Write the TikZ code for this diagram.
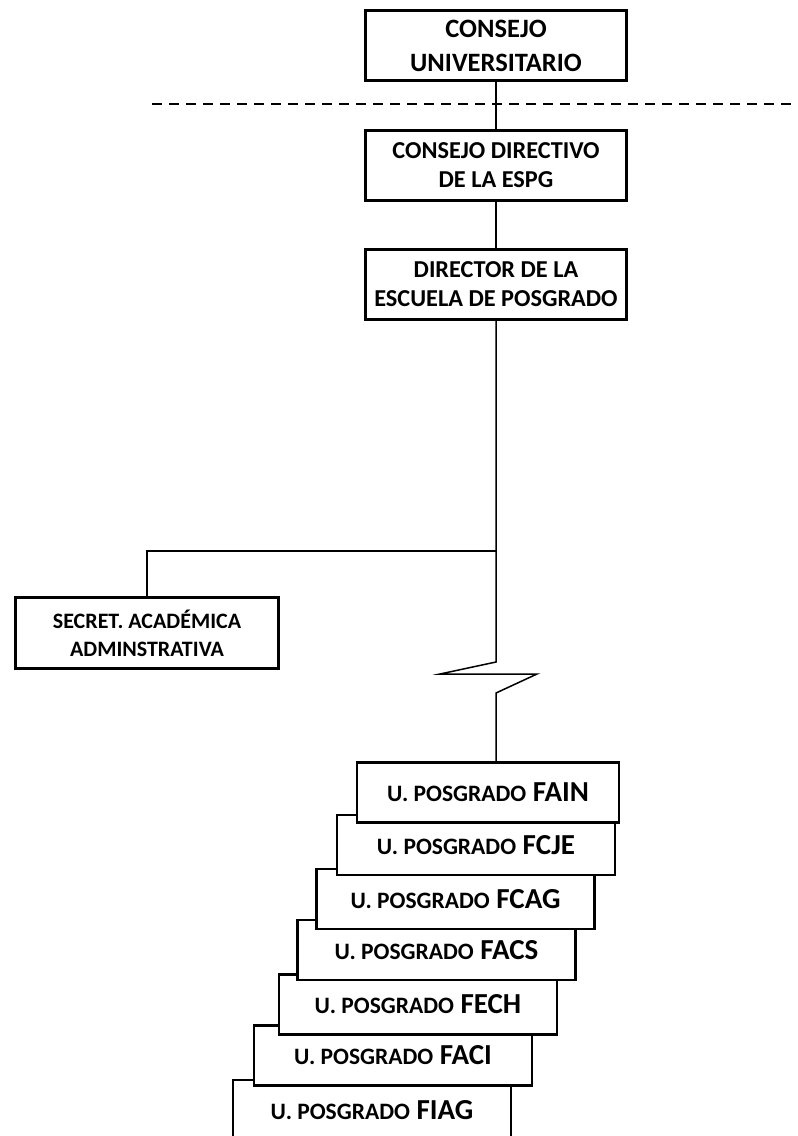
\documentclass[tikz,border=0pt]{standalone}
\usepackage{fontspec}
\setmainfont{Carlito}
\newcommand{\posgrado}{{\fontsize{23.5}{27}\selectfont U. POSGRADO}}
\begin{document}
\begin{tikzpicture}[x=1pt,y=-1pt,
    caja/.style={draw,line width=3pt,fill=white,align=center,inner sep=0pt,
      minimum width=261pt,minimum height=70pt,
      font=\fontsize{24.3}{29}\selectfont\bfseries},
    unidad/.style={draw,line width=2.5pt,fill=white,inner sep=0pt,
      minimum width=278pt,minimum height=60pt,
      font=\fontsize{29}{32}\selectfont\bfseries},
    linea/.style={line width=1.5pt}]
  \useasboundingbox (0,0) rectangle (798,1136);
  % 
  \draw[line width=2pt,dash pattern=on 10pt off 7pt] (152,104) -- (798,104);
  % 
  \node[caja,font=\fontsize{26.5}{34}\selectfont\bfseries] (cu) at (496,45.5) {CONSEJO\\UNIVERSITARIO};
  \node[caja] (cd) at (496,165.5) {CONSEJO DIRECTIVO\\DE LA ESPG};
  \node[caja] (dir) at (496,284) {DIRECTOR DE LA\\ESCUELA DE POSGRADO};
  \node[caja,minimum width=263pt,minimum height=71pt,font=\fontsize{22}{28}\selectfont\bfseries] (sec) at (147,633) {SECRET. ACAD\'EMICA\\ADMINSTRATIVA};
  % 
  \draw[linea] (cu) -- (cd);
  \draw[linea] (cd) -- (dir);
  \coordinate (rama) at (496,551);
  \draw[linea] (rama) -| (sec.north);
  % 
  \node[unidad] (fiag) at (372,1110) {\posgrado{} FIAG};
  \node[unidad] (faci) at (393,1055.5) {\posgrado{} FACI};
  \node[unidad] (fech) at (418,1004.5) {\posgrado{} FECH};
  \node[unidad] (facs) at (436.5,950) {\posgrado{} FACS};
  \node[unidad] (fcag) at (455.5,899) {\posgrado{} FCAG};
  \node[unidad] (fcje) at (476,845) {\posgrado{} FCJE};
  \node[unidad,minimum width=262pt] (fain) at (488,792.5) {\posgrado{} FAIN};
  % 
  \coordinate (corte1) at (496,662);
  \coordinate (corte2) at (496,693);
  \draw[linea] (dir.south) -- (corte1) -- (440,674) -- (537,674) -- (corte2) -- (corte2 |- fain.north);
\end{tikzpicture}
\end{document}
